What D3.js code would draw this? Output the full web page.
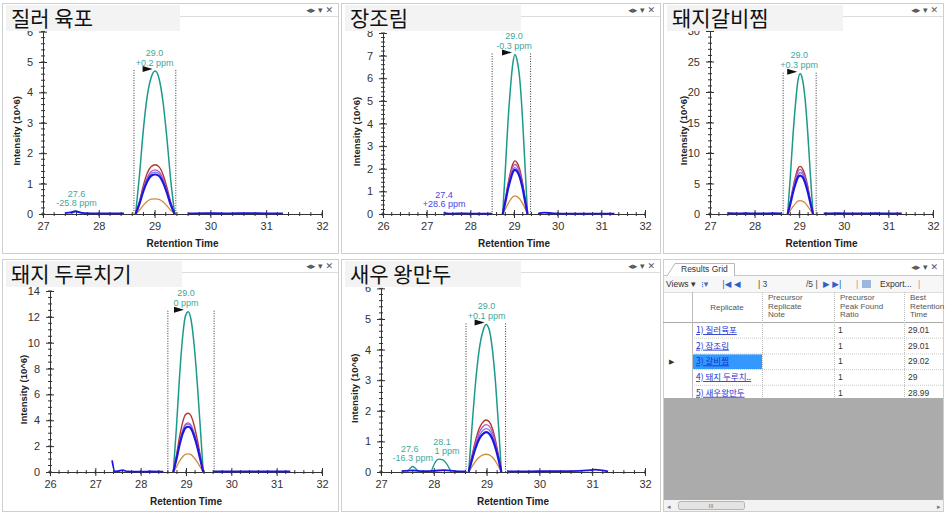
<!DOCTYPE html>
<html><head><meta charset="utf-8">
<script src="https://cdn.jsdelivr.net/npm/d3@7"></script>
<style>
body{margin:0;background:#fff;}
svg{display:block;font-family:"Liberation Sans",Arial,sans-serif;}
</style>
</head><body>
<svg id="c" width="945" height="513"></svg>
<script>
// ---------- DATA ----------
const titles = ["질러 육포", "장조림", "돼지갈비찜", "돼지 두루치기", "새우 왕만두"];
const xDomains = [[27, 32], [26, 32], [27, 32], [26, 32], [27, 32]];
const yTops = [6, 8, 30, 14, 6];
const yTickSteps = [1, 1, 5, 2, 1];
const yMinorSteps = [0.2, 0.2, 1, 0.5, 0.2];
const apexTimes = [29.0, 29.0, 29.0, 29.0, 29.0];
const apexLabels = ["29.0", "29.0", "29.0", "29.0", "29.0"];
const ppmLabels = ["+0.2 ppm", "-0.3 ppm", "+0.3 ppm", "0 ppm", "+0.1 ppm"];
const boundaries = [[28.63, 29.38], [28.5, 29.38], [28.64, 29.38], [28.6, 29.62], [28.61, 29.36]];

const peakTimes = [
  [28.66, 28.73, 28.80, 28.87, 28.94, 29.01, 29.08, 29.15, 29.22, 29.29, 29.36],
  [28.74, 28.80, 28.86, 28.92, 28.97, 29.02, 29.07, 29.13, 29.19, 29.25, 29.31],
  [28.74, 28.80, 28.86, 28.92, 28.97, 29.02, 29.07, 29.13, 29.19, 29.25, 29.31],
  [28.72, 28.79, 28.86, 28.93, 28.99, 29.05, 29.11, 29.18, 29.25, 29.32, 29.38],
  [28.66, 28.72, 28.79, 28.86, 28.93, 28.99, 29.05, 29.11, 29.17, 29.23, 29.28]
];
const tealValues = [
  [0, 1.3, 2.8, 3.9, 4.5, 4.7, 4.45, 3.7, 2.5, 1.1, 0],
  [0, 1.9, 4.0, 5.6, 6.6, 7.05, 6.8, 6.0, 4.4, 2.2, 0],
  [0, 6.0, 12.8, 18.3, 21.8, 23.0, 22.2, 19.0, 13.5, 6.5, 0],
  [0, 3.5, 7.5, 10.6, 12.1, 12.4, 11.8, 9.8, 6.8, 3.2, 0],
  [0, 1.4, 2.9, 4.0, 4.6, 4.82, 4.65, 4.0, 2.9, 1.4, 0]
];
const redValues = [
  [0, 0.42, 0.95, 1.35, 1.56, 1.62, 1.55, 1.3, 0.88, 0.38, 0],
  [0, 0.62, 1.3, 1.85, 2.2, 2.35, 2.27, 1.98, 1.45, 0.72, 0],
  [0, 2.0, 4.3, 6.2, 7.4, 7.8, 7.5, 6.4, 4.6, 2.2, 0],
  [0, 1.3, 2.75, 3.9, 4.45, 4.55, 4.35, 3.6, 2.5, 1.18, 0],
  [0, 0.5, 1.02, 1.42, 1.63, 1.7, 1.64, 1.42, 1.02, 0.5, 0]
];
const purpleValues = [
  [0, 0.38, 0.85, 1.2, 1.4, 1.45, 1.39, 1.16, 0.78, 0.34, 0],
  [0, 0.58, 1.22, 1.73, 2.06, 2.2, 2.12, 1.85, 1.36, 0.68, 0],
  [0, 1.9, 4.0, 5.8, 6.9, 7.3, 7.0, 6.0, 4.3, 2.1, 0],
  [0, 1.08, 2.3, 3.25, 3.7, 3.8, 3.63, 3.0, 2.08, 0.98, 0],
  [0, 0.45, 0.93, 1.29, 1.48, 1.55, 1.5, 1.29, 0.93, 0.45, 0]
];
const violetValues = [
  [0, 0.36, 0.81, 1.14, 1.33, 1.38, 1.32, 1.1, 0.74, 0.32, 0],
  [0, 0.54, 1.14, 1.61, 1.92, 2.05, 1.98, 1.73, 1.27, 0.63, 0],
  [0, 1.8, 3.8, 5.4, 6.4, 6.8, 6.6, 5.6, 4.0, 1.9, 0],
  [0, 1.05, 2.24, 3.17, 3.62, 3.7, 3.55, 2.93, 2.03, 0.96, 0],
  [0, 0.41, 0.85, 1.18, 1.36, 1.42, 1.37, 1.18, 0.85, 0.41, 0]
];
const blueValues = [
  [0, 0.34, 0.76, 1.08, 1.26, 1.3, 1.25, 1.04, 0.7, 0.3, 0],
  [0, 0.51, 1.08, 1.53, 1.83, 1.95, 1.88, 1.64, 1.2, 0.6, 0],
  [0, 1.6, 3.5, 5.0, 6.0, 6.3, 6.1, 5.2, 3.7, 1.8, 0],
  [0, 1.0, 2.12, 3.0, 3.42, 3.5, 3.35, 2.77, 1.92, 0.9, 0],
  [0, 0.38, 0.78, 1.08, 1.24, 1.3, 1.25, 1.08, 0.78, 0.38, 0]
];
const orangeValues = [
  [0, 0.13, 0.29, 0.42, 0.49, 0.5, 0.48, 0.4, 0.27, 0.12, 0],
  [0, 0.21, 0.44, 0.63, 0.75, 0.8, 0.77, 0.67, 0.49, 0.25, 0],
  [0, 0.57, 1.2, 1.75, 2.1, 2.2, 2.12, 1.82, 1.3, 0.63, 0],
  [0, 0.4, 0.85, 1.2, 1.37, 1.4, 1.34, 1.1, 0.77, 0.36, 0],
  [0, 0.17, 0.35, 0.48, 0.56, 0.58, 0.56, 0.48, 0.35, 0.17, 0]
];
// baseline (blue trace outside the peak window)
const preTimes = [
  [27.4, 27.5, 27.58, 27.66, 27.75, 28.0, 28.2, 28.45],
  [27.4, 27.45, 27.6, 27.8, 28.0, 28.2, 28.5],
  [27.4, 27.6, 27.8, 28.0, 28.2, 28.4, 28.6],
  [27.37, 27.43, 27.5, 27.6, 27.7, 28.0, 28.2, 28.5],
  [27.4, 27.6, 27.8, 28.0, 28.2, 28.4, 28.6]
];
const preValues = [
  [0.03, 0.05, 0.09, 0.05, 0.03, 0.02, 0.02, 0.02],
  [0.08, 0.03, 0.02, 0.03, 0.02, 0.02, 0.02],
  [0.12, 0.1, 0.12, 0.1, 0.1, 0.12, 0.1],
  [0.9, 0.05, 0.06, 0.14, 0.05, 0.03, 0.04, 0.03],
  [0.03, 0.05, 0.03, 0.04, 0.06, 0.03, 0.02]
];
const postTimes = [
  [29.6, 29.9, 30.3, 30.7, 31.0, 31.3],
  [29.55, 29.7, 29.9, 30.3, 30.8, 31.3],
  [29.55, 29.9, 30.3, 30.7, 31.0, 31.3],
  [29.6, 29.9, 30.3, 30.7, 31.0, 31.3],
  [29.4, 29.8, 30.2, 30.6, 30.9, 31.05, 31.3]
];
const postValues = [
  [0.02, 0.03, 0.02, 0.03, 0.02, 0.02],
  [0.02, 0.06, 0.03, 0.02, 0.02, 0.02],
  [0.1, 0.12, 0.1, 0.12, 0.1, 0.1],
  [0.05, 0.04, 0.05, 0.04, 0.05, 0.04],
  [0.02, 0.02, 0.03, 0.03, 0.05, 0.08, 0.02]
];
// secondary peaks
const minorPeaks = [
  {panel: 0, times: [27.5, 27.55, 27.6, 27.65, 27.72], values: [0, 0.06, 0.09, 0.06, 0], apex: 27.6, top: 0.09, label: "27.6", ppm: "-25.8 ppm", color: "tealText"},
  {panel: 1, times: [27.4, 27.42], values: [0.08, 0.08], apex: 27.4, top: 0.08, label: "27.4", ppm: "+28.6 ppm", color: "violetText"},
  {panel: 4, times: [27.5, 27.55, 27.6, 27.65, 27.72], values: [0, 0.12, 0.18, 0.12, 0], apex: 27.6, top: 0.18, label: "27.6", ppm: "-16.3 ppm", color: "tealText"},
  {panel: 4, times: [27.95, 28.02, 28.1, 28.17, 28.25, 28.33], values: [0, 0.3, 0.42, 0.4, 0.25, 0], apex: 28.1, top: 0.42, label: "28.1", ppm: "1 ppm", color: "tealText"}
];
// results grid
const gridColumns = [["Replicate"], ["Precursor", "Replicate", "Note"], ["Precursor", "Peak Found", "Ratio"], ["Best", "Retention", "Time"]];
const replicateNames = ["1) 질러육포", "2) 장조림", "3) 갈비찜", "4) 돼지 두루치..", "5) 새우왕만두"];
const peakFoundRatio = ["1", "1", "1", "1", "1"];
const bestRetentionTime = ["29.01", "29.01", "29.02", "29", "28.99"];

// ---------- STYLE / LAYOUT ----------
const colors = {teal: "#1b9a8b", red: "#b0372d", purple: "#bb55b9", violet: "#7b74f0", blue: "#1c16e2", orange: "#d38a3c",
  tealText: "#3fa89c", violetText: "#4a44e0"};
const layout = [
  {fx: 2, fy: 3, fw: 336, fh: 250, xl: 43, xr: 322, yb: 214, yt: 31.6, tw: 178},
  {fx: 341, fy: 3, fw: 319, fh: 250, xl: 383, xr: 645, yb: 214, yt: 33, tw: 180},
  {fx: 663, fy: 3, fw: 280, fh: 250, xl: 710, xr: 933, yb: 214, yt: 31, tw: 180},
  {fx: 2, fy: 259, fw: 336, fh: 252, xl: 50, xr: 322, yb: 472, yt: 291, tw: 180},
  {fx: 341, fy: 259, fw: 319, fh: 252, xl: 381, xr: 645, yb: 472, yt: 288.4, tw: 180}
];
// label nudges for the secondary peak annotations (px), same order as minorPeaks
const minorLabelDx = [[0, 0], [0, 0], [-3, 0], [3, 8]];

const svg = d3.select("#c");
svg.append("rect").attr("width", 945).attr("height", 513).attr("fill", "#fff");

function panel(i) {
  const L = layout[i];
  const g = svg.append("g");
  g.append("rect").attr("x", L.fx + 0.5).attr("y", L.fy + 0.5).attr("width", L.fw).attr("height", L.fh)
    .attr("fill", "#fff").attr("stroke", "#cfcfcf");
  g.append("line").attr("x1", L.fx + L.tw).attr("x2", L.fx + L.fw).attr("y1", L.fy + 13.5).attr("y2", L.fy + 13.5)
    .attr("stroke", "#dcdcdc");
  g.append("text").attr("x", L.fx + L.fw - 5).attr("y", L.fy + 10).attr("text-anchor", "end")
    .attr("font-size", 9).attr("fill", "#555").attr("font-family", "DejaVu Sans").text("◂▸ ▾ ✕");

  const x = d3.scaleLinear().domain(xDomains[i]).range([L.xl, L.xr]);
  const y = d3.scaleLinear().domain([0, yTops[i]]).range([L.yb, L.yt]);

  // minor ticks
  const xMinor = d3.range(xDomains[i][0], xDomains[i][1] + 1e-6, 0.2);
  const yMinor = d3.range(0, yTops[i] + 1e-6, yMinorSteps[i]);
  g.append("g").selectAll("line").data(xMinor).join("line")
    .attr("x1", d => x(d)).attr("x2", d => x(d)).attr("y1", L.yb - 2).attr("y2", L.yb + 2)
    .attr("stroke", "#333");
  g.append("g").selectAll("line").data(yMinor).join("line")
    .attr("y1", d => y(d)).attr("y2", d => y(d)).attr("x1", L.xl - 2).attr("x2", L.xl + 2)
    .attr("stroke", "#333");

  const xTicks = d3.range(xDomains[i][0], xDomains[i][1] + 1e-6, 1);
  const yTicks = d3.range(0, yTops[i] + 1e-6, yTickSteps[i]);
  const xa = g.append("g").attr("transform", `translate(0,${L.yb})`)
    .call(d3.axisBottom(x).tickValues(xTicks).tickFormat(d3.format("d")).tickSizeInner(4).tickSizeOuter(0).tickPadding(4));
  xa.selectAll(".tick line").attr("y1", -4).attr("y2", 4).attr("stroke", "#333");
  xa.select(".domain").attr("stroke", "#333");
  xa.selectAll("text").attr("font-size", 11).attr("fill", "#333").attr("font-family", "Liberation Sans, Arial");
  const ya = g.append("g").attr("transform", `translate(${L.xl},0)`)
    .call(d3.axisLeft(y).tickValues(yTicks).tickFormat(d3.format("d")).tickSizeInner(4).tickSizeOuter(0).tickPadding(6));
  ya.selectAll(".tick line").attr("x1", -4).attr("x2", 4).attr("stroke", "#333");
  ya.select(".domain").attr("stroke", "#333");
  ya.selectAll("text").attr("font-size", 11).attr("fill", "#333").attr("font-family", "Liberation Sans, Arial");

  g.append("text").attr("x", (L.xl + L.xr) / 2).attr("y", L.yb + 33).attr("text-anchor", "middle")
    .attr("font-size", 10).attr("font-weight", "bold").attr("fill", "#222").text("Retention Time");
  g.append("text").attr("transform", `translate(${L.xl - 23},${(L.yb + L.yt) / 2 + 8}) rotate(-90)`)
    .attr("text-anchor", "middle").attr("font-size", 9.5).attr("font-weight", "bold").attr("fill", "#222")
    .text("Intensity (10^6)");

  // boundaries
  const apexY = y(d3.max(tealValues[i]));
  boundaries[i].forEach(b => {
    g.append("line").attr("x1", x(b)).attr("x2", x(b)).attr("y1", apexY - 1).attr("y2", L.yb)
      .attr("stroke", "#333").attr("stroke-dasharray", "1,1.5").attr("stroke-width", 1);
  });

  const line = d3.line().x(d => x(d[0])).y(d => y(d[1])).curve(d3.curveMonotoneX);
  const zip = (t, v) => t.map((tt, k) => [tt, v[k]]);

  // minor peaks
  minorPeaks.filter(m => m.panel === i).forEach(m => {
    if (m.times.length > 2) {
      g.append("path").attr("d", line(zip(m.times, m.values))).attr("fill", "none")
        .attr("stroke", colors.teal).attr("stroke-width", 1.3);
    }
  });

  // baseline blue
  [[preTimes[i], preValues[i]], [postTimes[i], postValues[i]]].forEach(([t, v]) => {
    g.append("path").attr("d", line(zip(t, v))).attr("fill", "none")
      .attr("stroke", colors.blue).attr("stroke-width", 1.8);
  });

  const series = [
    ["orange", orangeValues, 1.3], ["teal", tealValues, 1.5], ["red", redValues, 1.4],
    ["purple", purpleValues, 1.3], ["violet", violetValues, 1.3], ["blue", blueValues, 2.2]
  ];
  series.forEach(([c, vals, w]) => {
    g.append("path").attr("d", line(zip(peakTimes[i], vals[i]))).attr("fill", "none")
      .attr("stroke", colors[c]).attr("stroke-width", w).attr("stroke-linejoin", "round");
  });

  // apex annotation
  const ax = x(apexTimes[i]);
  g.append("text").attr("x", ax).attr("y", apexY - 15.5).attr("text-anchor", "middle")
    .attr("font-size", 9).attr("fill", colors.tealText).text(apexLabels[i]);
  g.append("text").attr("x", ax).attr("y", apexY - 5.5).attr("text-anchor", "middle")
    .attr("font-size", 9).attr("fill", colors.tealText).text(ppmLabels[i]);
  g.append("path").attr("d", `M${ax - 12},${apexY - 5} L${ax - 2},${apexY - 2} L${ax - 12},${apexY + 1} Z`)
    .attr("fill", "#111");

  minorPeaks.forEach((m, k) => {
    if (m.panel !== i) return;
    const py = y(m.top);
    g.append("text").attr("x", x(m.apex) + minorLabelDx[k][0]).attr("y", py - 14.5).attr("text-anchor", "middle")
      .attr("font-size", 9).attr("fill", colors[m.color]).text(m.label);
    g.append("text").attr("x", x(m.apex) + minorLabelDx[k][1]).attr("y", py - 5).attr("text-anchor", "middle")
      .attr("font-size", 9).attr("fill", colors[m.color]).text(m.ppm);
  });

  // title box
  g.append("rect").attr("x", L.fx + 4).attr("y", L.fy + 2).attr("width", L.tw - 4).attr("height", 26)
    .attr("fill", "#f3f3f3");
  g.append("text").attr("x", L.fx + 9).attr("y", L.fy + 23).attr("font-size", 21)
    .attr("font-family", "Noto Sans CJK KR").attr("fill", "#111").text(titles[i]);
}
for (let i = 0; i < 5; i++) panel(i);

// ---------- RESULTS GRID ----------
(function () {
  const g = svg.append("g").attr("font-family", "Liberation Sans, Arial");
  const X0 = 663, Y0 = 259, W = 280;
  g.append("rect").attr("x", X0 + 0.5).attr("y", Y0 + 0.5).attr("width", W).attr("height", 252)
    .attr("fill", "#fff").attr("stroke", "#cfcfcf");
  // tab
  g.append("line").attr("x1", X0).attr("x2", X0 + W).attr("y1", 275.5).attr("y2", 275.5).attr("stroke", "#c8c8c8");
  g.append("path").attr("d", "M667,276 L675,263.5 L734.5,263.5 L734.5,276").attr("fill", "#fff").attr("stroke", "#b8b8b8");
  g.append("text").attr("x", 681).attr("y", 272).attr("font-size", 8.5).attr("fill", "#333").text("Results Grid");
  g.append("text").attr("x", X0 + W - 5).attr("y", 270).attr("text-anchor", "end")
    .attr("font-size", 9).attr("fill", "#555").attr("font-family", "DejaVu Sans").text("◂▸ ▾ ✕");
  // toolbar
  g.append("rect").attr("x", X0 + 1).attr("y", 276).attr("width", W - 1).attr("height", 16).attr("fill", "#f7f7f7");
  g.append("text").attr("x", 666).attr("y", 287).attr("font-size", 8.5).attr("fill", "#333").text("Views ▾");
  g.append("text").attr("x", 701).attr("y", 287).attr("font-size", 9).attr("fill", "#3a6fc4").attr("font-family", "DejaVu Sans").text("⁝▾");
  g.append("text").attr("x", 722).attr("y", 287).attr("font-size", 8.5).attr("fill", "#2a5fd0").attr("font-family", "DejaVu Sans").text("|◀  ◀");
  g.append("text").attr("x", 758).attr("y", 287).attr("font-size", 8.5).attr("fill", "#444").text("| 3");
  g.append("text").attr("x", 806).attr("y", 287).attr("font-size", 8.5).attr("fill", "#444").text("/5 |");
  g.append("text").attr("x", 823).attr("y", 287).attr("font-size", 8.5).attr("fill", "#2a5fd0").attr("font-family", "DejaVu Sans").text("▶  ▶|");
  g.append("text").attr("x", 856).attr("y", 287).attr("font-size", 8.5).attr("fill", "#999").text("|");
  g.append("rect").attr("x", 862).attr("y", 280).attr("width", 9).attr("height", 8).attr("fill", "#9bb7dd");
  g.append("text").attr("x", 880).attr("y", 287).attr("font-size", 8.5).attr("fill", "#333").text("Export...");
  g.append("text").attr("x", 918).attr("y", 287).attr("font-size", 8.5).attr("fill", "#999").text("|");
  // header
  const colX = [692, 762, 834, 904, 943];
  const headTop = 292, rowTop = 322, rowH = 15.7;
  g.append("line").attr("x1", X0).attr("x2", X0 + W).attr("y1", headTop + 0.5).attr("y2", headTop + 0.5).attr("stroke", "#ddd");
  gridColumns.forEach((lines, c) => {
    const n = lines.length;
    lines.forEach((t, k) => {
      g.append("text").attr("x", c === 0 ? (colX[0] + colX[1]) / 2 : colX[c] + 6)
        .attr("y", n === 1 ? 310 : 300 + k * 8.7).attr("text-anchor", c === 0 ? "middle" : "start")
        .attr("font-size", 8).attr("fill", "#555").text(t);
    });
  });
  g.append("line").attr("x1", X0).attr("x2", X0 + W).attr("y1", rowTop + 0.5).attr("y2", rowTop + 0.5).attr("stroke", "#aaa");
  colX.slice(0, 4).forEach(cx => {
    g.append("line").attr("x1", cx + 0.5).attr("x2", cx + 0.5).attr("y1", headTop).attr("y2", 398)
      .attr("stroke", "#bbb").attr("stroke-dasharray", cx === 692 ? null : "1,1");
  });
  replicateNames.forEach((name, r) => {
    const ty = rowTop + r * rowH;
    if (r === 2) {
      g.append("rect").attr("x", 693).attr("y", ty + 1).attr("width", 69).attr("height", rowH - 1).attr("fill", "#3399ff");
      g.append("text").attr("x", 669).attr("y", ty + 11).attr("font-size", 7).attr("fill", "#333").text("▶");
    }
    g.append("text").attr("x", 696).attr("y", ty + 11).attr("font-size", 8.5)
      .attr("fill", "#1c2fcf").attr("text-decoration", "underline").attr("font-family", "Noto Sans CJK KR").text(name);
    g.append("text").attr("x", 838).attr("y", ty + 11).attr("font-size", 8.5).attr("fill", "#333").text(peakFoundRatio[r]);
    g.append("text").attr("x", 908).attr("y", ty + 11).attr("font-size", 8.5).attr("fill", "#333").text(bestRetentionTime[r]);
    g.append("line").attr("x1", 692).attr("x2", X0 + W).attr("y1", ty + rowH + 0.5).attr("y2", ty + rowH + 0.5)
      .attr("stroke", "#ccc").attr("stroke-dasharray", "1,1");
  });
  // grey empty area
  g.append("rect").attr("x", X0 + 1).attr("y", 398).attr("width", W - 1).attr("height", 102).attr("fill", "#ababab");
  // scrollbar
  g.append("rect").attr("x", X0 + 1).attr("y", 500).attr("width", W - 1).attr("height", 11).attr("fill", "#f2f2f2");
  g.append("rect").attr("x", 678.5).attr("y", 501.5).attr("width", 66).attr("height", 8).attr("rx", 2)
    .attr("fill", "#e4e4e4").attr("stroke", "#b5b5b5");
  g.append("text").attr("x", 711).attr("y", 508).attr("text-anchor", "middle").attr("font-size", 6).attr("fill", "#777").text("III");
  g.append("text").attr("x", 667).attr("y", 508.5).attr("font-size", 7).attr("fill", "#777").text("◂");
  g.append("text").attr("x", 937).attr("y", 508.5).attr("font-size", 7).attr("fill", "#777").text("▸");
})();
</script>
</body></html>
